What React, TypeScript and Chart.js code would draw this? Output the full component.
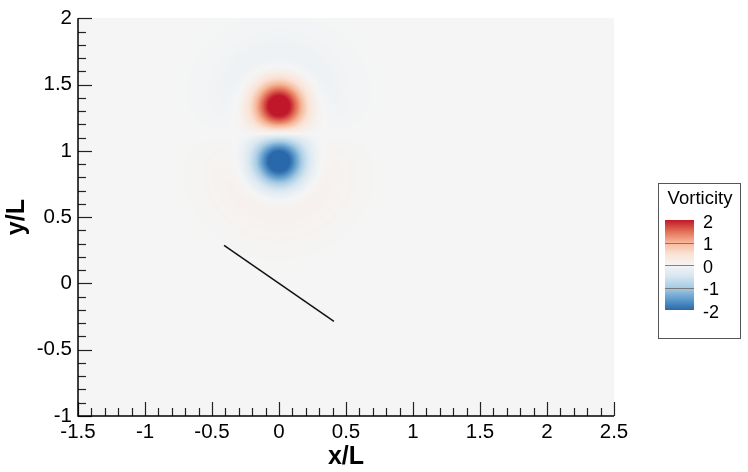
import React, { useEffect, useRef } from 'react';
import { Chart, registerables } from 'chart.js';
Chart.register(...registerables);

// axes
const xMin = -1.5;
const xMax = 2.5;
const yMin = -1;
const yMax = 2;
const majorStep = 0.5;
const minorStep = 0.1;
const xTitle = 'x/L';
const yTitle = 'y/L';

// vortex dipole: centres, core peak/radius, shielding halo peak/radius
const vortexX = [0, 0];
const vortexY = [1.34, 0.92];
const corePeak = [2.7, -2.7];
const coreRadius = [0.19, 0.19];
const haloPeak = [-0.4, 0.4];
const haloRadius = [0.4, 0.4];

// plate (black segment)
const plateX = [-0.41, 0.41];
const plateY = [0.287, -0.287];

// colour legend
const legendTitle = 'Vorticity';
const legendTicks = [2, 1, 0, -1, -2];
const legendLines = [1, 0, -1];
const cmapValues = [-2, -1.5, -1, -0.5, 0, 0.5, 1, 1.5, 2];
const cmapColors = [
  [42, 104, 172],
  [98, 158, 205],
  [168, 204, 228],
  [214, 230, 241],
  [245, 245, 245],
  [250, 226, 212],
  [246, 182, 152],
  [226, 110, 86],
  [192, 24, 42],
];

const FONT = '"Liberation Sans", Arial, Helvetica, sans-serif';

function colorFor(v: number): number[] {
  if (v <= cmapValues[0]) return cmapColors[0];
  const n = cmapValues.length;
  if (v >= cmapValues[n - 1]) return cmapColors[n - 1];
  for (let k = 0; k < n - 1; k++) {
    if (v <= cmapValues[k + 1]) {
      const t = (v - cmapValues[k]) / (cmapValues[k + 1] - cmapValues[k]);
      const a = cmapColors[k], b = cmapColors[k + 1];
      return [a[0] + (b[0] - a[0]) * t, a[1] + (b[1] - a[1]) * t, a[2] + (b[2] - a[2]) * t];
    }
  }
  return cmapColors[n - 1];
}

function vorticity(x: number, y: number): number {
  let s = 0;
  for (let i = 0; i < vortexX.length; i++) {
    const dx = x - vortexX[i], dy = y - vortexY[i];
    const r2 = dx * dx + dy * dy;
    const a = coreRadius[i], b = haloRadius[i];
    s += corePeak[i] * Math.exp(-r2 / (a * a)) + haloPeak[i] * Math.exp(-r2 / (b * b));
  }
  return s;
}

const fmt = (v: any) => String(Number(Number(v).toFixed(2)));

const fieldPlugin = {
  id: 'field',
  beforeDraw(chart: any) {
    const { ctx, chartArea: ca, scales } = chart;
    const w = Math.round(ca.right - ca.left);
    const h = Math.round(ca.bottom - ca.top);
    const off = document.createElement('canvas');
    off.width = w;
    off.height = h;
    const octx = off.getContext('2d')!;
    const img = octx.createImageData(w, h);
    const xs: number[] = [];
    for (let i = 0; i < w; i++) xs.push(scales.x.getValueForPixel(ca.left + i + 0.5));
    for (let j = 0; j < h; j++) {
      const yv = scales.y.getValueForPixel(ca.top + j + 0.5);
      for (let i = 0; i < w; i++) {
        const c = colorFor(vorticity(xs[i], yv));
        const p = (j * w + i) * 4;
        img.data[p] = c[0];
        img.data[p + 1] = c[1];
        img.data[p + 2] = c[2];
        img.data[p + 3] = 255;
      }
    }
    octx.putImageData(img, 0, 0);
    ctx.drawImage(off, ca.left, ca.top);
  },
  afterDraw(chart: any) {
    const { ctx, chartArea: ca, scales } = chart;
    ctx.save();
    // inward ticks
    ctx.strokeStyle = '#222';
    ctx.lineWidth = 1.2;
    const per = Math.round(majorStep / minorStep);
    const nx = Math.round((xMax - xMin) / minorStep);
    for (let k = 0; k <= nx; k++) {
      const v = xMin + k * minorStep;
      const px = Math.round(scales.x.getPixelForValue(v)) + 0.5;
      ctx.beginPath();
      ctx.moveTo(px, ca.bottom);
      ctx.lineTo(px, ca.bottom - (k % per === 0 ? 14 : 8));
      ctx.stroke();
    }
    const ny = Math.round((yMax - yMin) / minorStep);
    for (let k = 0; k <= ny; k++) {
      const v = yMin + k * minorStep;
      const py = Math.round(scales.y.getPixelForValue(v)) + 0.5;
      ctx.beginPath();
      ctx.moveTo(ca.left, py);
      ctx.lineTo(ca.left + (k % per === 0 ? 14 : 8), py);
      ctx.stroke();
    }
    // axis lines
    ctx.strokeStyle = '#000';
    ctx.lineWidth = 1.5;
    ctx.beginPath();
    ctx.moveTo(ca.left, ca.top);
    ctx.lineTo(ca.left, ca.bottom);
    ctx.lineTo(ca.right, ca.bottom);
    ctx.stroke();

    // legend
    const boxL = 658, boxT = 183, boxW = 82, boxH = 155;
    ctx.fillStyle = '#fff';
    ctx.fillRect(boxL, boxT, boxW, boxH);
    ctx.strokeStyle = '#555';
    ctx.lineWidth = 1;
    ctx.strokeRect(boxL + 0.5, boxT + 0.5, boxW, boxH);
    ctx.fillStyle = '#000';
    ctx.font = '18.5px ' + FONT;
    ctx.textAlign = 'center';
    ctx.textBaseline = 'middle';
    ctx.fillText(legendTitle, boxL + boxW / 2 + 1, 199);
    const barL = 665, barR = 694, barT = 220, barB = 310;
    const vTop = legendTicks[0], vBot = legendTicks[legendTicks.length - 1];
    const toY = (v: number) => barT + (vTop - v) / (vTop - vBot) * (barB - barT);
    for (let y = barT; y < barB; y++) {
      const v = vTop - (y + 0.5 - barT) / (barB - barT) * (vTop - vBot);
      const c = colorFor(v);
      ctx.fillStyle = `rgb(${c[0]},${c[1]},${c[2]})`;
      ctx.fillRect(barL, y, barR - barL, 1);
    }
    ctx.strokeStyle = 'rgba(110,100,95,0.8)';
    ctx.lineWidth = 1;
    for (const v of legendLines) {
      const y = Math.round(toY(v)) + 0.5;
      ctx.beginPath();
      ctx.moveTo(barL, y);
      ctx.lineTo(barR, y);
      ctx.stroke();
    }
    ctx.fillStyle = '#000';
    ctx.font = '18px ' + FONT;
    ctx.textAlign = 'left';
    for (const v of legendTicks) {
      ctx.fillText(String(v), 703, toY(v) + 3);
    }
    ctx.restore();
  },
};

export default function App() {
  const ref = useRef<HTMLCanvasElement | null>(null);
  useEffect(() => {
    if (!ref.current) return;
    const chart = new Chart(ref.current, {
      type: 'scatter',
      data: {
        datasets: [
          {
            data: plateX.map((x, i) => ({ x, y: plateY[i] })),
            showLine: true,
            borderColor: '#111',
            borderWidth: 1.5,
            pointRadius: 0,
            pointHoverRadius: 0,
          },
        ],
      },
      options: {
        responsive: false,
        animation: false,
        devicePixelRatio: 1,
        layout: { padding: { left: 0, top: 14, right: 134, bottom: 0 } },
        plugins: { legend: { display: false }, tooltip: { enabled: false } },
        events: [],
        scales: {
          x: {
            type: 'linear',
            min: xMin,
            max: xMax,
            afterFit: (s: any) => { s.height = 56; },
            grid: { display: false, drawTicks: false },
            border: { display: false },
            ticks: { stepSize: majorStep, padding: 4, color: '#000', font: { family: FONT, size: 20.5 }, maxRotation: 0, callback: fmt },
            title: { display: true, text: xTitle, color: '#000', font: { family: FONT, size: 25, weight: 'bold' }, padding: 0 },
          },
          y: {
            type: 'linear',
            min: yMin,
            max: yMax,
            afterFit: (s: any) => { s.width = 78; },
            grid: { display: false, drawTicks: false },
            border: { display: false },
            ticks: { stepSize: majorStep, padding: 6, color: '#000', font: { family: FONT, size: 20.5 }, callback: fmt },
            title: { display: true, text: yTitle, color: '#000', font: { family: FONT, size: 25, weight: 'bold' }, padding: { top: 2, bottom: 0 } },
          },
        },
      } as any,
      plugins: [fieldPlugin],
    });
    return () => chart.destroy();
  }, []);
  return (
    <div style={{ position: 'fixed', left: 0, top: 0, width: 748, height: 472, background: '#fff' }}>
      <canvas ref={ref} width={748} height={472} />
    </div>
  );
}
